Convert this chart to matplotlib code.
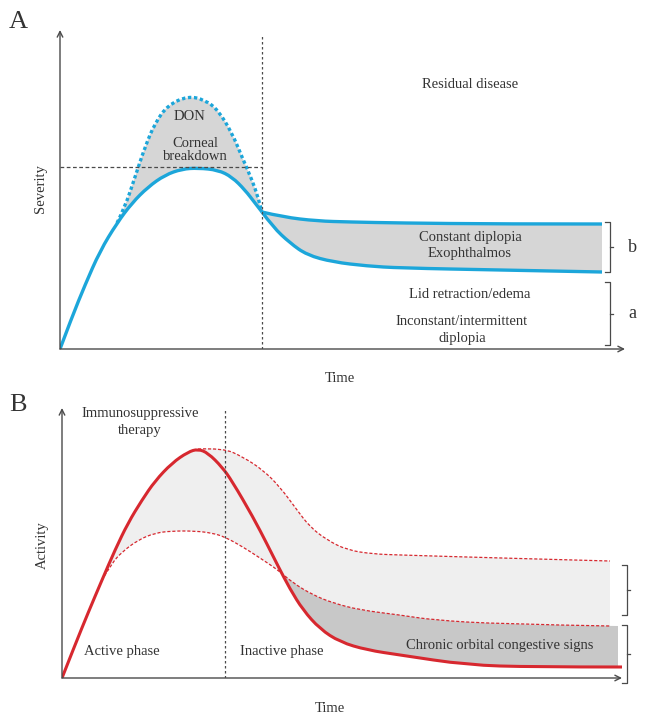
import numpy as np
import matplotlib
matplotlib.use("Agg")
import matplotlib.pyplot as plt
from matplotlib.path import Path
from matplotlib.patches import PathPatch

plt.rcParams['font.family'] = ['Liberation Serif', 'DejaVu Serif']

# ---- panel A: severity (arbitrary units) ----
a_rise_t = [0, 12, 25, 40, 57, 72, 88, 105, 122, 138, 158, 172, 185, 195, 202]
a_rise_s = [0, 32, 64, 98, 126, 146, 162, 174, 180, 181, 179, 172, 159, 146, 137]

a_don_t = [57, 65, 75, 85, 95, 108, 128, 145, 158, 172, 182, 192, 198, 202]
a_don_s = [126, 142, 172, 202, 226, 244, 253, 249, 239, 216, 192, 169, 152, 137]

a_hi_t = [202, 223, 257, 290, 340, 440, 542]
a_hi_s = [137, 132, 128, 127, 126, 125, 125]

a_lo_t = [202, 213, 230, 247, 273, 307, 340, 440, 542]
a_lo_s = [137, 122, 106, 94, 87, 83, 81, 79, 77]

a_thresh = 182
a_split = 202

# ---- panel B: activity ----
b_main_t = [0, 13, 26, 40, 53, 66, 80, 93, 110, 126, 136, 146, 160, 170, 191,
            205, 216, 228, 241, 258, 278, 305, 338, 405, 471, 560]
b_main_s = [0, 33, 65, 98, 128, 155, 178, 197, 215, 226, 229, 225, 211, 197, 161,
            134, 112, 89, 68, 49, 36, 28, 23, 13, 11, 11]

b_up_t = [136, 161, 181, 201, 218, 235, 248, 265, 285, 311, 338, 438, 548]
b_up_s = [229, 230, 221, 208, 191, 168, 151, 138, 128, 124, 123, 120, 117]

b_low_t = [40, 50, 60, 76, 93, 110, 133, 150, 163, 181, 198, 216, 231, 251, 271, 298,
           338, 371, 438, 548]
b_low_s = [98, 115, 126, 138, 145, 147, 147, 145, 141, 131, 120, 108, 95, 83, 75, 68,
           63, 58, 54, 52]

b_therapy = 163

blue = '#1ca6da'
red = '#d7282f'
txt = '#333333'
axc = '#4a4a4a'

fig = plt.figure(figsize=(6.45, 7.17), dpi=100)
W, H = 645.0, 717.0


def smooth(t, s, first=Path.MOVETO):
    # quadratic bezier through midpoints, points act as control points
    p = np.column_stack([t, s]).astype(float)
    verts, codes = [p[0]], [first]
    for i in range(1, len(p) - 1):
        end = p[i + 1] if i == len(p) - 2 else (p[i] + p[i + 1]) / 2
        verts += [p[i], end]
        codes += [Path.CURVE3, Path.CURVE3]
    if len(p) == 2:
        verts.append(p[1])
        codes.append(Path.LINETO)
    return verts, codes


def line(ax, t, s, **kw):
    v, c = smooth(t, s)
    ax.add_patch(PathPatch(Path(v, c), fill=False, **kw))


def band(ax, t1, s1, t2, s2, color):
    v1, c1 = smooth(t1, s1)
    v2, c2 = smooth(t2[::-1], s2[::-1], first=Path.LINETO)
    v = v1 + v2 + [v1[0]]
    c = c1 + c2 + [Path.CLOSEPOLY]
    ax.add_patch(PathPatch(Path(v, c), facecolor=color, lw=0))


def draw_axes(ax, xmax, ymax):
    ax.set_xlim(0, xmax)
    ax.set_ylim(0, ymax)
    ax.axis('off')
    ap = dict(arrowstyle='->', color=axc, lw=1.0, shrinkA=0, shrinkB=0)
    ax.annotate('', xy=(0, ymax), xytext=(0, 0), arrowprops=ap, annotation_clip=False)
    ax.annotate('', xy=(xmax, 0), xytext=(0, 0), arrowprops=ap, annotation_clip=False)


def bracket(ax, t, s0, s1, label=None, lx=None):
    ax.plot([t - 5, t, t, t - 5], [s1, s1, s0, s0], color=axc, lw=0.9, clip_on=False)
    ax.plot([t, t + 3], [(s0 + s1) / 2] * 2, color=axc, lw=0.9, clip_on=False)
    if label:
        ax.text(lx, (s0 + s1) / 2, label, fontsize=13, color=txt,
                ha='center', va='center', clip_on=False)


# ---------------- A ----------------
axA = fig.add_axes([60 / W, 1 - 349 / H, 565 / W, 319 / H])
draw_axes(axA, 565, 319)

rt, rs = np.array(a_rise_t), np.array(a_rise_s)
m = rt >= a_don_t[0]
band(axA, np.array(a_don_t), np.array(a_don_s), rt[m], rs[m], '#d6d6d6')
band(axA, np.array(a_hi_t), np.array(a_hi_s), np.array(a_lo_t), np.array(a_lo_s), '#d6d6d6')

axA.plot([0, a_split], [a_thresh, a_thresh], color=axc, lw=0.9, ls=(0, (3, 2)))
axA.plot([a_split, a_split], [0, 314], color=axc, lw=0.9, ls=(0, (2, 2)))

line(axA, a_don_t, a_don_s, color=blue, lw=2.4, ls=(0, (1, 0.8)))
line(axA, a_rise_t, a_rise_s, color=blue, lw=2.4)
line(axA, a_hi_t, a_hi_s, color=blue, lw=2.4)
line(axA, a_lo_t, a_lo_s, color=blue, lw=2.4)

kw = dict(fontsize=10.5, color=txt, ha='center', va='center')
axA.text(410, 264, 'Residual disease', **kw)
axA.text(130, 232, 'DON', **kw)
axA.text(135, 199, 'Corneal\nbreakdown', linespacing=1.0, **kw)
axA.text(-20, 160, 'Severity', rotation=90, **kw)
axA.text(280, -29, 'Time', **kw)
axA.text(410, 104, 'Constant diplopia\nExophthalmos', linespacing=1.3, **kw)
axA.text(410, 55, 'Lid retraction/edema', **kw)
axA.text(402, 19, 'Inconstant/intermittent\ndiplopia', linespacing=1.4, **kw)
bracket(axA, 550, 77, 127, 'b', 572)
bracket(axA, 550, 4, 67, 'a', 572)
fig.text(18 / W, 1 - 22 / H, 'A', fontsize=19, color=txt, ha='center', va='center')

# ---------------- B ----------------
axB = fig.add_axes([62 / W, 1 - 678 / H, 560 / W, 270 / H])
draw_axes(axB, 560, 270)

mt, ms = np.array(b_main_t), np.array(b_main_s)
lt, ls_ = np.array(b_low_t), np.array(b_low_s)
m1 = (mt >= b_low_t[0]) & (mt < b_up_t[0])
band(axB, np.r_[mt[m1], b_up_t], np.r_[ms[m1], b_up_s], lt, ls_, '#efefef')
m2 = mt >= 216
m3 = lt >= 216
band(axB, np.r_[lt[m3], 556], np.r_[ls_[m3], b_low_s[-1]],
     np.r_[mt[m2][:-1], 556], np.r_[ms[m2][:-1], b_main_s[-1]], '#c8c8c8')

axB.plot([b_therapy, b_therapy], [0, 270], color=axc, lw=0.9, ls=(0, (2, 2)))
line(axB, b_up_t, b_up_s, color=red, lw=0.9, ls=(0, (2.5, 1.5)))
line(axB, b_low_t, b_low_s, color=red, lw=0.9, ls=(0, (2.5, 1.5)))
line(axB, b_main_t, b_main_s, color=red, lw=2.2)

axB.text(78, 256, 'Immunosuppressive\ntherapy', linespacing=1.45, **kw)
axB.text(-20, 133, 'Activity', rotation=90, **kw)
axB.text(60, 27, 'Active phase', **kw)
axB.text(220, 27, 'Inactive phase', **kw)
axB.text(438, 33, 'Chronic orbital congestive signs', **kw)
axB.text(268, -30, 'Time', **kw)
bracket(axB, 565, 63, 113)
bracket(axB, 565, -5, 53)
fig.text(18 / W, 1 - 405 / H, 'B', fontsize=19, color=txt, ha='center', va='center')

fig.savefig('out.png', dpi=100)
